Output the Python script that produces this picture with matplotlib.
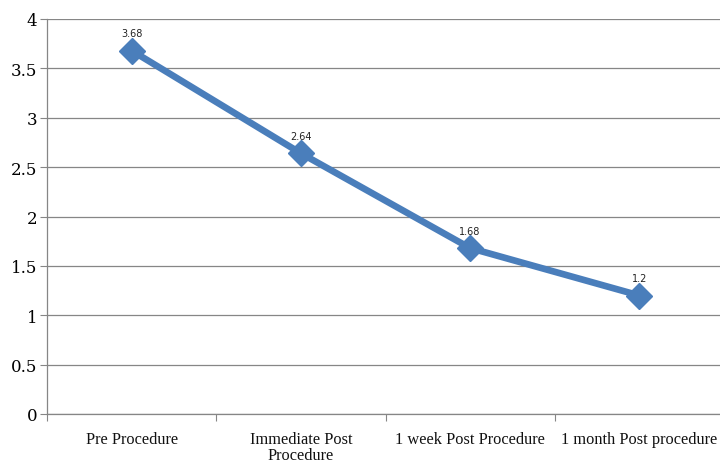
import matplotlib.pyplot as plt
import numpy as np

# chart data
categories = ['Pre Procedure', 'Immediate Post\nProcedure', '1 week Post Procedure', '1 month Post procedure']
values = [3.68, 2.64, 1.68, 1.2]
labels = ['3.68', '2.64', '1.68', '1.2']
yticks = [0, 0.5, 1, 1.5, 2, 2.5, 3, 3.5, 4]

blue = '#4a7ebb'
grey = '#868686'

fig = plt.figure(figsize=(7.2, 4.64), dpi=100)
ax = fig.add_axes([47 / 720, 1 - 415 / 464, (724 - 47) / 720, (415 - 20) / 464])

x = np.arange(len(values))
ax.plot(x, values, color=blue, linewidth=4.8, marker='D', markersize=13,
        markerfacecolor=blue, markeredgecolor=blue, solid_capstyle='round')

for xi, v, lab in zip(x, values, labels):
    ax.annotate(lab, (xi, v), xytext=(0, 9), textcoords='offset points',
                ha='center', va='bottom', fontsize=7, color='#222222')

ax.set_xlim(-0.5, 3.5)
ax.set_ylim(0, 4)
ax.set_yticks(yticks)
ax.set_yticklabels(['0', '0.5', '1', '1.5', '2', '2.5', '3', '3.5', '4'],
                   family='DejaVu Serif', fontsize=12)
ax.yaxis.grid(True, color=grey, linewidth=0.9)
ax.set_axisbelow(True)

# category labels between boundary ticks
ax.set_xticks(np.arange(-0.5, 3.6, 1))
ax.set_xticklabels([])
ax.set_xticks(x, minor=True)
ax.set_xticklabels(categories, minor=True, family='Liberation Serif', fontsize=11.8,
                   linespacing=1.0, color='#111111')
ax.tick_params(axis='x', which='minor', length=0, pad=12)
ax.tick_params(axis='x', which='major', length=5, color=grey)
ax.tick_params(axis='y', length=5, color=grey, pad=2)

for s in ['top', 'right']:
    ax.spines[s].set_visible(False)
for s in ['left', 'bottom']:
    ax.spines[s].set_color(grey)
    ax.spines[s].set_linewidth(0.9)

fig.savefig('out.png', dpi=100)
